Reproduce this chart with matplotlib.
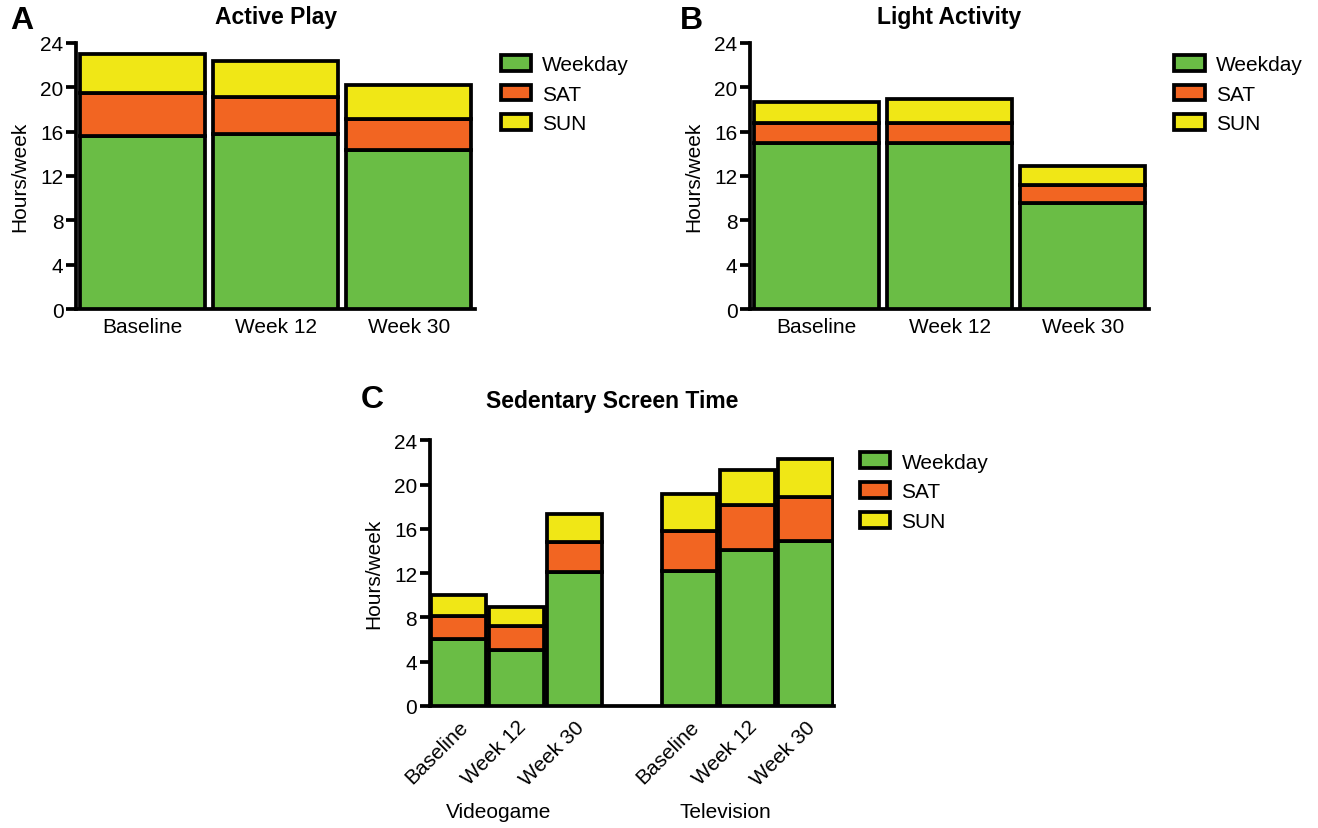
import matplotlib.pyplot as plt
import numpy as np

plt.rcParams['font.family'] = ['Liberation Sans', 'DejaVu Sans']

# stacked segments: weekday, SAT, SUN (hours/week)
weeks = ['Baseline', 'Week 12', 'Week 30']
layers = ['Weekday', 'SAT', 'SUN']
colors = ['#6abd45', '#f26522', '#f0e716']

active_weekday = [15.6, 15.8, 14.3]
active_sat = [3.9, 3.3, 2.8]
active_sun = [3.5, 3.3, 3.1]

light_weekday = [15.0, 15.0, 9.55]
light_sat = [1.8, 1.8, 1.6]
light_sun = [1.9, 2.1, 1.75]

screen_labels = weeks + weeks
screen_groups = ['Videogame', 'Television']
screen_weekday = [6.0, 5.0, 12.1, 12.2, 14.1, 14.9]
screen_sat = [2.1, 2.25, 2.7, 3.65, 4.1, 4.0]
screen_sun = [1.9, 1.7, 2.5, 3.3, 3.1, 3.4]

LW = 2.7
FS = 15


def stacked(ax, x, series, width):
    bottom = np.zeros(len(x))
    for vals, c, lab in zip(series, colors, layers):
        ax.bar(x, vals, width, bottom=bottom, color=c, edgecolor='black',
               linewidth=LW, label=lab, zorder=3)
        bottom += np.array(vals)


def style(ax, title, title_pad=14, leg_top=0.955):
    ax.set_ylim(0, 24)
    ax.set_yticks(range(0, 25, 4))
    for s in ['top', 'right']:
        ax.spines[s].set_visible(False)
    for s in ['left', 'bottom']:
        ax.spines[s].set_linewidth(LW)
    ax.tick_params(axis='y', width=LW, length=7, labelsize=FS, pad=2)
    ax.tick_params(axis='x', length=0, labelsize=FS, pad=6)
    ax.set_ylabel('Hours/week', fontsize=FS, labelpad=8)
    ax.set_title(title, fontsize=16.5, fontweight='bold', pad=title_pad)
    ax.legend(loc='upper left', bbox_to_anchor=(1.063, leg_top), frameon=False,
              fontsize=FS, handlelength=1.45, handleheight=0.8,
              labelspacing=0.5, handletextpad=0.55, borderpad=0,
              borderaxespad=0)


fig = plt.figure(figsize=(13.18, 8.29), dpi=100)

axA = fig.add_axes([0.0577, 0.626, 0.303, 0.321])
x3 = np.arange(3)
stacked(axA, x3, [active_weekday, active_sat, active_sun], 0.94)
axA.set_xlim(-0.5, 2.5)
axA.set_xticks(x3)
axA.set_xticklabels(weeks)
style(axA, 'Active Play')

axB = fig.add_axes([0.569, 0.626, 0.303, 0.321])
stacked(axB, x3, [light_weekday, light_sat, light_sun], 0.94)
axB.set_xlim(-0.5, 2.5)
axB.set_xticks(x3)
axB.set_xticklabels(weeks)
style(axB, 'Light Activity')

axC = fig.add_axes([0.326, 0.1475, 0.307, 0.32])
xc = np.array([0, 1, 2, 4, 5, 6])
stacked(axC, xc, [screen_weekday, screen_sat, screen_sun], 0.95)
axC.set_xlim(-0.5, 6.5)
axC.set_xticks(xc)
axC.set_xticklabels(screen_labels, rotation=45, ha='right',
                    rotation_mode='anchor')
style(axC, 'Sedentary Screen Time', title_pad=24, leg_top=0.955)
axC.tick_params(axis='x', pad=8)
axC.title.set_x(0.45)
for gx, g in zip([0.69, 4.61], screen_groups):
    axC.text(gx, -0.40, g, transform=axC.get_xaxis_transform(),
             ha='center', va='center', fontsize=FS)

fig.text(0.0075, 0.975, 'A', fontsize=23, fontweight='bold', va='center')
fig.text(0.516, 0.975, 'B', fontsize=23, fontweight='bold', va='center')
fig.text(0.274, 0.517, 'C', fontsize=23, fontweight='bold', va='center')

fig.savefig('out.png', dpi=100)
